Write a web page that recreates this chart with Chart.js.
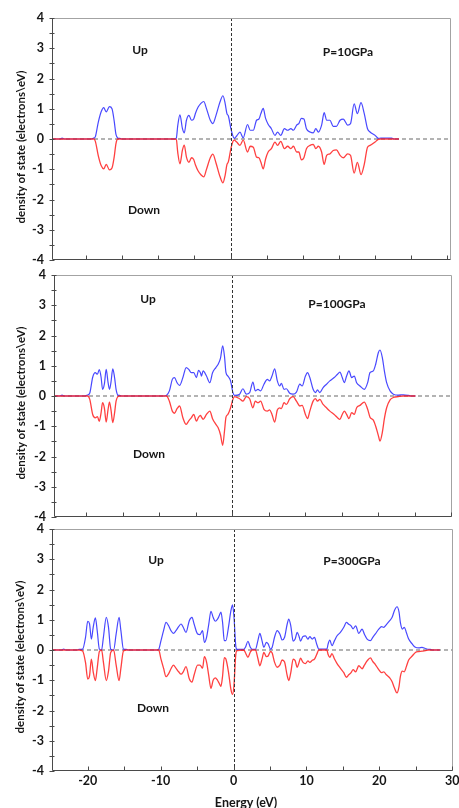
<!DOCTYPE html>
<html>
<head>
<meta charset="utf-8">
<script src="https://cdn.jsdelivr.net/npm/chart.js@4.4.1/dist/chart.umd.min.js"></script>
<style>
  html, body { margin: 0; padding: 0; background: #fff; }
  body { width: 459px; height: 808px; position: relative; overflow: hidden; font-family: Lato, "Open Sans", sans-serif; }
  canvas { position: absolute; left: 0; top: 0; }
  .lbl { position: absolute; font-weight: bold; font-size: 12px; color: #161616; white-space: nowrap; transform: translate(-50%, -50%); }
  .ytitle { position: absolute; font-weight: bold; font-size: 11.5px; color: #161616; white-space: nowrap; transform: translate(-50%, -50%) rotate(-90deg); }
  .xtitle { position: absolute; font-weight: bold; font-size: 12.5px; color: #161616; white-space: nowrap; transform: translate(-50%, -50%); }
</style>
</head>
<body>
<canvas id="p10" width="459" height="808"></canvas>
<canvas id="p100" width="459" height="808"></canvas>
<canvas id="p300" width="459" height="808"></canvas>

<div class="lbl" style="left:140px;top:49px">Up</div>
<div class="lbl" style="left:348px;top:51px">P=10GPa</div>
<div class="lbl" style="left:144px;top:209px">Down</div>
<div class="ytitle" style="left:20px;top:147px">density of state (electrons\eV)</div>

<div class="lbl" style="left:148px;top:298px">Up</div>
<div class="lbl" style="left:337px;top:303px">P=100GPa</div>
<div class="lbl" style="left:149px;top:453px">Down</div>
<div class="ytitle" style="left:20px;top:403px">density of state (electrons\eV)</div>

<div class="lbl" style="left:156px;top:559px">Up</div>
<div class="lbl" style="left:352px;top:560px">P=300GPa</div>
<div class="lbl" style="left:153px;top:707px">Down</div>
<div class="ytitle" style="left:19px;top:657px">density of state (electrons\eV)</div>
<div class="xtitle" style="left:246px;top:802px">Energy (eV)</div>

<script>
// ---- Spin-resolved density of states (electrons/eV) vs energy (eV) ----

// Axis tick labels
const yTickValues = [-4, -3, -2, -1, 0, 1, 2, 3, 4];
const xTickValues = [-20, -10, 0, 10, 20, 30];

// P = 10 GPa
const energy10 = [
  -24.7, -23.6, -23.3, -23.0, -19.3, -18.9, -18.7, -18.3, -17.9, -17.55,
  -17.2, -16.75, -16.4, -16.1, -15.85, -15.6, -15.3, -15.0, -7.8, -7.5,
  -7.3, -7.0, -6.65, -6.4, -6.1, -5.75, -5.4, -5.1, -4.85, -4.5,
  -4.1, -3.7, -3.35, -2.8, -2.45, -2.0, -1.45, -1.05, -0.75, -0.5,
  -0.3, 0.05, 0.3, 0.5, 0.85, 1.3, 1.75, 2.35, 2.72, 3.15,
  3.6, 3.93, 4.2, 4.52, 4.85, 5.2, 5.65, 6.15, 6.5, 6.95,
  7.45, 7.9, 8.35, 8.7, 9.15, 9.45, 9.8, 10.15, 10.5, 11.0,
  11.45, 11.8, 12.15, 12.6, 12.95, 13.3, 13.75, 14.2, 14.65, 15.15,
  15.6, 16.2, 16.6, 17.1, 17.55, 18.05, 18.5, 18.95, 19.3, 20.0,
  20.45, 20.8, 22.3, 22.6, 23.3
];
const up10 = [
  0, 0, 0.03, 0, 0, 0.03, 0.08, 0.55, 0.9, 1.04,
  0.9, 1.07, 1.0, 0.6, 0.15, 0.03, 0.02, 0, 0, 0.03,
  0.45, 0.8, 0.34, 0.2, 0.62, 0.78, 0.62, 0.66, 0.85, 1.05,
  1.18, 1.24, 1.02, 0.62, 0.51, 0.79, 1.23, 1.43, 1.18, 0.84,
  0.76, 0.34, 0.12, 0.02, 0.1, 0.23, 0.04, 0.48, 0.29, 0.29,
  0.62, 0.66, 0.84, 1.01, 0.68, 0.49, 0.34, 0.12, 0.23, 0.12,
  0.34, 0.29, 0.34, 0.29, 0.46, 0.51, 0.68, 0.66, 0.34, 0.23,
  0.2, 0.34, 0.23, 0.46, 0.87, 0.62, 0.62, 0.42, 0.42, 0.62,
  0.66, 0.46, 0.51, 1.16, 0.84, 1.2, 0.84, 0.34, 0.23, 0.12,
  0.02, 0.03, 0.03, 0, 0
];
const down10 = [
  0, 0, 0, 0, 0, 0, -0.08, -0.55, -0.88, -0.99,
  -0.84, -1.02, -0.96, -0.6, -0.15, 0, 0, 0, 0, -0.02,
  -0.45, -0.82, -0.36, -0.2, -0.6, -0.77, -0.62, -0.68, -0.86, -1.05,
  -1.18, -1.25, -1.02, -0.62, -0.5, -0.8, -1.25, -1.45, -1.2, -0.85,
  -0.75, -0.32, -0.1, -0.04, -0.1, -0.21, -0.04, -0.43, -0.24, -0.27,
  -0.6, -0.62, -0.77, -0.99, -0.66, -0.43, -0.32, -0.1, -0.21, -0.08,
  -0.32, -0.24, -0.32, -0.24, -0.43, -0.43, -0.69, -0.62, -0.32, -0.21,
  -0.18, -0.32, -0.24, -0.43, -0.84, -0.54, -0.49, -0.38, -0.36, -0.54,
  -0.62, -0.49, -0.54, -1.13, -0.77, -1.18, -0.84, -0.27, -0.21, -0.1,
  -0.01, 0, 0, 0, 0
];

// P = 100 GPa
const energy100 = [
  -24.4, -23.6, -23.3, -23.0, -20.2, -19.8, -19.5, -19.1, -18.75, -18.45,
  -18.2, -17.95, -17.75, -17.5, -17.25, -17.0, -16.8, -16.6, -16.35, -16.1,
  -15.9, -15.65, -15.4, -15.1, -9.3, -9.0, -8.6, -8.2, -7.9, -7.55,
  -7.2, -6.75, -6.3, -5.95, -5.6, -5.26, -4.9, -4.6, -4.35, -4.2,
  -3.98, -3.52, -3.06, -2.69, -2.23, -1.92, -1.6, -1.3, -1.05, -0.85,
  -0.59, -0.22, 0.1, 0.33, 1.01, 1.47, 1.93, 2.39, 2.84, 3.16,
  3.53, 3.9, 4.35, 4.81, 5.13, 5.45, 5.82, 6.18, 6.5, 6.73,
  7.1, 7.42, 7.88, 8.34, 8.8, 9.26, 9.58, 10.03, 10.31, 10.63,
  11.08, 11.4, 11.68, 12.0, 12.45, 12.91, 13.37, 13.97, 14.43, 14.75,
  15.07, 15.35, 15.67, 15.99, 16.36, 16.72, 17.04, 17.5, 18.09, 18.55,
  18.87, 19.33, 19.65, 20.01, 20.24, 20.56, 20.84, 21.15, 21.62, 22.07,
  22.76, 23.45, 24.13, 24.5, 25.1
];
const up100 = [
  0, 0, 0.03, 0, 0, 0.03, 0.1, 0.62, 0.77, 0.72,
  0.87, 0.62, 0.22, 0.4, 0.88, 0.45, 0.22, 0.45, 0.9, 0.6,
  0.22, 0.03, 0.02, 0, 0, 0.02, 0.17, 0.55, 0.61, 0.44,
  0.35, 0.61, 0.94, 0.88, 0.77, 0.77, 0.61, 0.85, 0.77, 0.66,
  0.83, 0.66, 0.44, 0.77, 0.94, 1.05, 1.25, 1.66, 1.3, 0.77,
  0.66, 0.5, 0.11, 0.02, 0.06, 0.24, 0.06, 0.11, 0.46, 0.17,
  0.22, 0.17, 0.39, 0.55, 0.5, 0.66, 0.9, 0.5, 0.33, 0.42,
  0.22, 0.24, 0.09, 0.06, 0.13, 0.39, 0.33, 0.66, 0.77, 0.61,
  0.22, 0.11, 0.2, 0.11, 0.28, 0.39, 0.5, 0.61, 0.72, 0.79,
  0.61, 0.44, 0.66, 0.83, 0.61, 0.66, 0.44, 0.33, 0.22, 0.44,
  0.77, 0.83, 1.05, 1.43, 1.52, 1.27, 0.83, 0.44, 0.17, 0.06,
  0.03, 0.04, 0.02, 0, 0
];
const down100 = [
  0, 0, 0, 0, 0, 0, -0.11, -0.61, -0.72, -0.68,
  -0.84, -0.55, -0.22, -0.4, -0.86, -0.45, -0.2, -0.45, -0.88, -0.55,
  -0.17, -0.02, 0, 0, 0, 0, -0.17, -0.5, -0.57, -0.42,
  -0.33, -0.72, -0.94, -0.82, -0.72, -0.61, -0.83, -0.7, -0.64, -0.7,
  -0.77, -0.61, -0.5, -0.75, -0.94, -1.05, -1.28, -1.63, -1.15, -0.7,
  -0.61, -0.39, -0.11, -0.02, -0.09, -0.17, -0.02, -0.09, -0.39, -0.17,
  -0.22, -0.17, -0.44, -0.5, -0.46, -0.61, -0.86, -0.46, -0.39, -0.42,
  -0.22, -0.28, -0.09, -0.02, -0.17, -0.33, -0.31, -0.61, -0.75, -0.5,
  -0.17, -0.09, -0.17, -0.11, -0.28, -0.39, -0.5, -0.61, -0.72, -0.77,
  -0.61, -0.5, -0.61, -0.75, -0.55, -0.61, -0.39, -0.31, -0.2, -0.44,
  -0.7, -0.8, -1.0, -1.3, -1.49, -1.2, -0.75, -0.39, -0.13, -0.05,
  -0.02, 0, 0, 0, 0
];

// P = 300 GPa
const energy300 = [
  -24.9, -23.6, -23.3, -23.0, -21.5, -21.2, -20.7, -20.3, -20.0, -19.75,
  -19.5, -19.25, -18.95, -18.7, -18.4, -18.1, -17.85, -17.45, -17.15, -16.85,
  -16.45, -16.1, -15.7, -15.45, -15.1, -14.7, -14.4, -10.5, -10.27, -9.95,
  -9.6, -9.26, -8.9, -8.58, -8.25, -7.9, -7.53, -7.2, -6.9, -6.52,
  -6.07, -5.7, -5.4, -4.93, -4.6, -4.25, -4.0, -3.7, -3.4, -3.1,
  -2.8, -2.5, -2.2, -1.97, -1.73, -1.5, -1.27, -1.05, -0.7, -0.36,
  -0.14, 0.05, 0.33, 0.5, 1.4, 1.65, 1.97, 2.3, 2.56, 3.0,
  3.34, 3.61, 3.9, 4.16, 4.5, 4.75, 5.07, 5.3, 5.62, 5.99,
  6.35, 6.67, 7.0, 7.36, 7.58, 7.85, 8.18, 8.45, 8.73, 9.0,
  9.18, 9.5, 9.86, 10.2, 10.46, 10.8, 11.1, 11.4, 11.7, 12.8,
  12.97, 13.2, 13.5, 13.85, 14.2, 14.65, 15.12, 15.48, 15.8, 16.12,
  16.4, 16.75, 17.18, 17.63, 17.95, 18.32, 18.77, 19.1, 19.45, 19.92,
  20.3, 20.6, 20.96, 21.42, 21.75, 22.06, 22.42, 22.7, 22.88, 23.15,
  23.43, 23.7, 24.02, 24.5, 24.94, 25.4, 25.85, 26.3, 26.76, 27.0,
  27.3, 28.3
];
const up300 = [
  0, 0, 0.03, 0, 0, 0.02, 0.03, 0.42, 0.95, 0.86,
  0.36, 0.75, 1.06, 0.64, 0.03, 0, 0.42, 1.08, 0.75, 0.03,
  0, 0.53, 1.08, 0.64, 0.03, 0.02, 0, 0, 0.02, 0.31,
  0.64, 0.91, 0.8, 0.64, 0.55, 0.64, 0.77, 0.86, 0.75, 0.58,
  0.97, 1.08, 0.85, 0.53, 0.51, 0.64, 0.25, 0.42, 0.85, 1.28,
  1.08, 0.95, 1.02, 1.13, 1.25, 0.9, 0.31, 0.31, 0.75, 1.3,
  1.49, 1.13, 0.09, 0.02, 0.02, 0.1, 0.29, 0.09, 0.02, 0.02,
  0.31, 0.55, 0.31, 0.09, 0.25, 0.2, 0.03, 0.09, 0.42, 0.64,
  0.53, 0.33, 0.42, 0.86, 1.02, 0.8, 0.29, 0.36, 0.58, 0.44,
  0.29, 0.44, 0.47, 0.36, 0.44, 0.36, 0.42, 0.2, 0.03, 0.03,
  0.2, 0.33, 0.14, 0.31, 0.47, 0.58, 0.75, 0.91, 0.85, 0.8,
  0.7, 0.8, 0.55, 0.69, 0.52, 0.36, 0.31, 0.42, 0.53, 0.69,
  0.77, 0.75, 0.84, 0.97, 1.08, 1.3, 1.43, 1.25, 0.91, 0.69,
  0.75, 0.58, 0.36, 0.2, 0.09, 0.07, 0.09, 0.05, 0.02, 0.02,
  0, 0
];
const down300 = [
  0, 0, 0, 0, 0, 0, -0.03, -0.42, -0.96, -0.85,
  -0.3, -0.72, -1.01, -0.6, -0.05, 0, -0.4, -1.01, -0.7, -0.08,
  0, -0.5, -1.01, -0.6, -0.03, 0, 0, 0, 0, -0.3,
  -0.6, -0.88, -0.78, -0.62, -0.5, -0.6, -0.72, -0.8, -0.72, -0.55,
  -0.95, -1.06, -0.82, -0.5, -0.5, -0.6, -0.22, -0.4, -0.85, -1.27,
  -1.0, -0.92, -1.0, -1.1, -1.2, -0.85, -0.25, -0.3, -0.72, -1.3,
  -1.47, -1.2, -0.1, -0.02, 0, -0.1, -0.24, -0.07, 0, 0,
  -0.28, -0.52, -0.3, -0.08, -0.22, -0.2, -0.05, -0.1, -0.4, -0.57,
  -0.5, -0.33, -0.4, -0.85, -1.01, -0.75, -0.3, -0.35, -0.57, -0.4,
  -0.27, -0.4, -0.45, -0.36, -0.41, -0.34, -0.3, -0.15, 0, 0,
  -0.15, -0.24, -0.12, -0.3, -0.45, -0.6, -0.75, -0.9, -0.82, -0.75,
  -0.65, -0.72, -0.52, -0.62, -0.5, -0.36, -0.26, -0.38, -0.48, -0.65,
  -0.75, -0.72, -0.82, -0.92, -1.05, -1.25, -1.42, -1.2, -0.88, -0.7,
  -0.72, -0.55, -0.33, -0.2, -0.08, -0.05, -0.04, -0.02, 0, 0,
  0, 0
];

// ---- drawing ----
Chart.defaults.font.family = 'Lato, "Open Sans", sans-serif';
Chart.defaults.font.weight = 'bold';
Chart.defaults.color = '#161616';

// Zero lines, framed plot box and inward tick marks.
const axisDecor = {
  id: 'axisDecor',
  beforeDatasetsDraw(chart) {
    const { ctx, chartArea: a, scales: { y } } = chart;
    const y0 = y.getPixelForValue(0);
    ctx.save();
    ctx.strokeStyle = '#9a9a9a';
    ctx.lineWidth = 1.6;
    ctx.setLineDash([4, 3]);
    ctx.beginPath();
    ctx.moveTo(a.left, y0);
    ctx.lineTo(a.right, y0);
    ctx.stroke();
    ctx.restore();
  },
  afterDatasetsDraw(chart) {
    const { ctx, chartArea: a, scales: { x, y } } = chart;
    ctx.save();
    // vertical dashed line at the Fermi level
    const x0 = Math.round(x.getPixelForValue(0)) + 0.5;
    ctx.strokeStyle = '#333';
    ctx.lineWidth = 1;
    ctx.setLineDash([3, 2]);
    ctx.beginPath();
    ctx.moveTo(x0, a.top);
    ctx.lineTo(x0, a.bottom);
    ctx.stroke();
    ctx.setLineDash([]);

    // frame: light top/right, darker axes
    const L = Math.round(a.left) + 0.5, R = Math.round(a.right) - 0.5;
    const T = Math.round(a.top) + 0.5, B = Math.round(a.bottom) - 0.5;
    ctx.strokeStyle = '#a3a3a3';
    ctx.beginPath();
    ctx.moveTo(L, T); ctx.lineTo(R, T); ctx.lineTo(R, B);
    ctx.stroke();
    ctx.strokeStyle = '#4a4a4a';
    ctx.beginPath();
    ctx.moveTo(L, T); ctx.lineTo(L, B); ctx.lineTo(R, B);
    ctx.stroke();

    // y tick marks every 0.5
    ctx.beginPath();
    for (let v = y.min; v <= y.max + 1e-9; v += 0.5) {
      const py = Math.round(y.getPixelForValue(v)) + 0.5;
      ctx.moveTo(L - 3, py); ctx.lineTo(L + 2, py);
    }
    // x tick marks every 5 eV, pointing inward
    for (let v = Math.ceil(x.min / 5) * 5; v <= x.max; v += 5) {
      const px = Math.round(x.getPixelForValue(v)) + 0.5;
      ctx.moveTo(px, B); ctx.lineTo(px, B - 4);
    }
    ctx.stroke();
    ctx.restore();
  }
};

function makePanel(id, energy, up, down, frame, withXLabels) {
  const W = 459, H = 808;
  const xAxisH = withXLabels ? 20 : 0;
  const toPoints = vals => energy.map((e, i) => ({ x: e, y: vals[i] }));
  new Chart(document.getElementById(id), {
    type: 'line',
    data: {
      datasets: [
        { label: 'Down', data: toPoints(down), borderColor: 'rgba(255,30,30,0.85)', borderWidth: 1.3,
          pointRadius: 0, cubicInterpolationMode: 'monotone', fill: false },
        { label: 'Up', data: toPoints(up), borderColor: 'rgba(40,40,255,0.85)', borderWidth: 1.2,
          pointRadius: 0, cubicInterpolationMode: 'monotone', fill: false }
      ]
    },
    options: {
      responsive: false,
      animation: false,
      devicePixelRatio: 1,
      layout: { padding: { left: 0, top: frame.top, right: W - frame.right, bottom: H - frame.bottom - xAxisH } },
      plugins: { legend: { display: false }, tooltip: { enabled: false } },
      scales: {
        x: {
          type: 'linear', min: frame.xMin, max: frame.xMax,
          grid: { display: false, drawTicks: false },
          border: { display: false },
          ticks: { display: withXLabels, padding: 2, font: { size: 12.5, weight: 'bold' }, color: '#161616', maxRotation: 0 },
          afterBuildTicks: s => { s.ticks = xTickValues.map(v => ({ value: v })); },
          afterFit: s => { s.height = xAxisH; s.paddingLeft = 0; s.paddingRight = 0; }
        },
        y: {
          min: -4, max: 4,
          grid: { display: false, drawTicks: false },
          border: { display: false },
          ticks: { padding: 8, font: { size: 12.5, weight: 'bold' }, color: '#161616' },
          afterBuildTicks: s => { s.ticks = yTickValues.map(v => ({ value: v })); },
          afterFit: s => { s.width = frame.left; s.paddingTop = 0; s.paddingBottom = 0; }
        }
      }
    },
    plugins: [axisDecor]
  });
}

makePanel('p10', energy10, up10, down10, { left: 52, top: 18, right: 451, bottom: 260, xMin: -24.7, xMax: 30.5 }, false);
makePanel('p100', energy100, up100, down100, { left: 54, top: 275, right: 452, bottom: 517, xMin: -24.4, xMax: 30.1 }, false);
makePanel('p300', energy300, up300, down300, { left: 52, top: 529, right: 453, bottom: 771, xMin: -24.9, xMax: 30.1 }, true);
</script>
</body>
</html>
